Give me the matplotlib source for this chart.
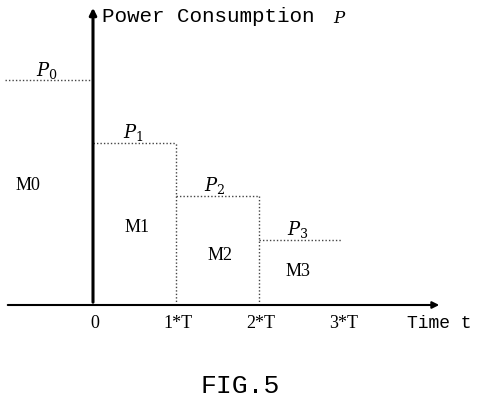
import matplotlib
matplotlib.use("Agg")
import matplotlib.pyplot as plt

levels = [2.25, 1.62, 1.09, 0.65]   # P0..P3
starts = [-1.06, 0, 1, 2]
ends = [0, 1, 2, 3]
ticks = [0, 1, 2, 3]
tick_labels = ["0", "1*T", "2*T", "3*T"]
regions = ["M0", "M1", "M2", "M3"]

fig = plt.figure(figsize=(4.8, 4.06), dpi=100)
ax = fig.add_axes([0, 0, 1, 1])
ax.set_xlim(-93/83, (480-93)/83)
ax.set_ylim(-(406-306)/100, 306/100)
ax.axis("off")

def px(x, y):
    return ((x-93)/83, (306-y)/100)

serif = "Liberation Serif"
mono = "Liberation Mono"

ax.annotate("", xy=px(442, 306), xytext=px(5, 306),
            arrowprops=dict(arrowstyle="-|>", lw=1.5, color="black", mutation_scale=10))
ax.annotate("", xy=px(93, 6), xytext=px(93, 306),
            arrowprops=dict(arrowstyle="-|>", lw=2.2, color="black", mutation_scale=10))

for i, (s, e, p) in enumerate(zip(starts, ends, levels)):
    ax.plot([s, e], [p, p], ls=(0, (1, 1.5)), lw=1, color="#444")
    if i in (1, 2):
        ax.plot([e, e], [0, p], ls=(0, (1, 1.5)), lw=1, color="#444")

plabels = [(47, 70), (133, 132), (215, 185), (298, 230)]
for i, (x, y) in enumerate(plabels):
    ax.text(*px(x, y), f"$P_{i}$", fontsize=13, ha="center", va="center",
            math_fontfamily="dejavuserif")
mpos = [(28, 185), (137, 228), (220, 255), (298, 272)]
for name, (x, y) in zip(regions, mpos):
    ax.text(*px(x, y), name, fontsize=13, family=serif, ha="center", va="center")

for t, lab in zip(ticks, tick_labels):
    ax.text(t + 0.02, px(0, 324)[1], lab, fontsize=13, family=serif, ha="center", va="center")

ax.text(*px(407, 324), "Time t", fontsize=13, family=mono, ha="left", va="center")
ax.text(*px(102, 16), "Power Consumption", fontsize=15, family=mono, ha="left", va="center")
ax.text(*px(340, 18), "$P$", fontsize=12, ha="center", va="center", math_fontfamily="dejavuserif")
ax.text(*px(240, 386), "FIG.5", fontsize=19, family=mono, ha="center", va="center")

fig.savefig("out.png", dpi=100)
